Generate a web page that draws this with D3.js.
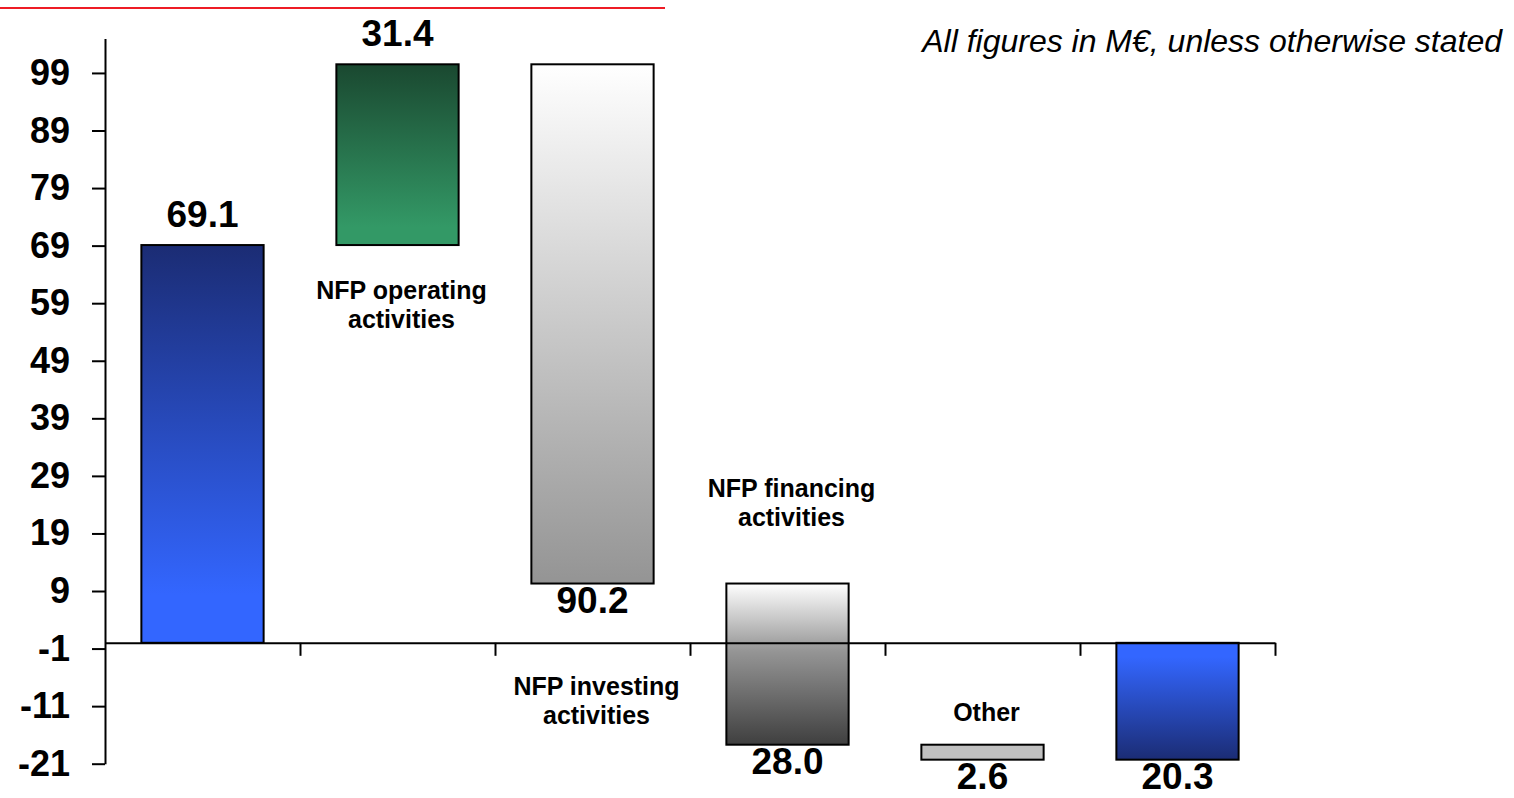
<!DOCTYPE html>
<html>
<head>
<meta charset="utf-8">
<script src="https://cdn.jsdelivr.net/npm/d3@7"></script>
<style>
  html, body { margin: 0; padding: 0; background: #ffffff; }
  svg { display: block; font-family: "Liberation Sans", Arial, sans-serif; }
</style>
</head>
<body>
<svg id="chart" width="1514" height="798"></svg>
<script>
// Net financial position bridge (M€)
const steps = ["Opening NFP", "NFP operating activities", "NFP investing activities",
               "NFP financing activities", "Other", "Closing NFP"];
const values = [69.1, 31.4, -90.2, -28.0, -2.6, -20.3];
const kinds = ["total", "delta", "delta", "delta", "delta", "total"];
const labelLines = [[], ["NFP operating", "activities"], ["NFP investing", "activities"],
                    ["NFP financing", "activities"], ["Other"], []];
const labelPlacement = ["none", "belowBar", "belowAxis", "aboveBar", "aboveBar", "none"];
const yTicks = [-21, -11, -1, 9, 19, 29, 39, 49, 59, 69, 79, 89, 99];
const fills = ["gOpen", "gOperating", "gInvesting", "gFinancing", "gOther", "gClose"];
const note = "All figures in M€, unless otherwise stated";

// running totals for the waterfall
let running = 0;
const bars = values.map((v, i) => {
  let start, end;
  if (kinds[i] === "total") { start = 0; end = v; }
  else { start = running; end = running + v; }
  running = end;
  return { i, v, start, end, lo: Math.min(start, end), hi: Math.max(start, end) };
});

const svg = d3.select("#chart");

// top rule
svg.append("rect").attr("x", 0).attr("y", 7).attr("width", 665).attr("height", 2)
  .attr("fill", "#ee1c25");

// note
svg.append("text").attr("x", 1502).attr("y", 52).attr("text-anchor", "end")
  .attr("font-size", 32).attr("font-style", "italic").attr("fill", "#000")
  .text(note);

// gradients
const defs = svg.append("defs");
function grad(id, stops) {
  const g = defs.append("linearGradient").attr("id", id)
    .attr("x1", 0).attr("y1", 0).attr("x2", 0).attr("y2", 1);
  stops.forEach(([o, c]) => g.append("stop").attr("offset", o).attr("stop-color", c));
}
grad("gOpen", [[0, "#1b2c74"], [0.88, "#3366ff"], [1, "#3366ff"]]);
grad("gOperating", [[0, "#1a4830"], [0.9, "#339966"], [1, "#339966"]]);
grad("gInvesting", [[0, "#ffffff"], [1, "#949494"]]);
grad("gFinancing", [[0, "#ffffff"], [0.42, "#959595"], [1, "#3f3f3f"]]);
grad("gOther", [[0, "#c0c0c0"], [1, "#c0c0c0"]]);
grad("gClose", [[0, "#3366ff"], [0.12, "#3366ff"], [1, "#1b2c74"]]);

// scales
const x = d3.scaleBand().domain(d3.range(steps.length)).range([105, 1275])
  .paddingInner(0.373).paddingOuter(0.1865);
const xEdge = d3.scaleLinear().domain([0, steps.length]).range([105, 1275]);
const y = d3.scaleLinear().domain([-21, 105]).range([763.7, 38.4]);

// bars
svg.append("g").selectAll("rect").data(bars).join("rect")
  .attr("x", d => x(d.i))
  .attr("width", x.bandwidth())
  .attr("y", d => y(d.hi))
  .attr("height", d => y(d.lo) - y(d.hi))
  .attr("fill", d => `url(#${fills[d.i]})`)
  .attr("stroke", "#000").attr("stroke-width", 2);

// y axis
const yAxis = svg.append("g").attr("transform", "translate(105,0)")
  .call(d3.axisLeft(y).tickValues(yTicks).tickSize(13).tickSizeOuter(0).tickPadding(22)
    .tickFormat(d => String(d)));
yAxis.select(".domain").attr("stroke", "#000").attr("stroke-width", 2);
yAxis.selectAll(".tick line").attr("stroke", "#000").attr("stroke-width", 2);
yAxis.selectAll(".tick text").attr("font-size", 36).attr("font-weight", "bold")
  .attr("font-family", "'Liberation Sans', Arial, sans-serif").attr("fill", "#000");

// x axis (at zero, ticks on category boundaries)
const xAxis = svg.append("g").attr("transform", `translate(0,${y(0)})`)
  .call(d3.axisBottom(xEdge).tickValues(d3.range(1, steps.length + 1))
    .tickSize(13).tickSizeOuter(0).tickFormat(""));
xAxis.select(".domain").attr("stroke", "#000").attr("stroke-width", 2);
xAxis.selectAll(".tick line").attr("stroke", "#000").attr("stroke-width", 2);

// value labels
svg.append("g").selectAll("text").data(bars).join("text")
  .attr("x", d => x(d.i) + x.bandwidth() / 2)
  .attr("y", d => d.v >= 0 ? y(d.hi) - 18 : y(d.lo) + 29)
  .attr("text-anchor", "middle")
  .attr("font-size", 37).attr("font-weight", "bold").attr("fill", "#000")
  .text(d => d3.format(".1f")(Math.abs(d.v)));

// step labels
const lineH = 29;
bars.forEach(d => {
  const lines = labelLines[d.i];
  if (!lines.length) return;
  const place = labelPlacement[d.i];
  let firstCenter;
  if (place === "belowBar") firstCenter = y(d.lo) + 45;
  else if (place === "belowAxis") firstCenter = y(0) + 43;
  else firstCenter = y(d.hi) - 32 - (lines.length - 1) * lineH - (lines.length > 1 ? 34 : 0);
  const t = svg.append("text")
    .attr("text-anchor", "middle")
    .attr("font-size", 25).attr("font-weight", "bold").attr("fill", "#000");
  lines.forEach((s, k) => {
    t.append("tspan")
      .attr("x", x(d.i) + x.bandwidth() / 2 + 4)
      .attr("y", firstCenter + k * lineH)
      .attr("dy", "0.35em")
      .text(s);
  });
});
</script>
</body>
</html>
